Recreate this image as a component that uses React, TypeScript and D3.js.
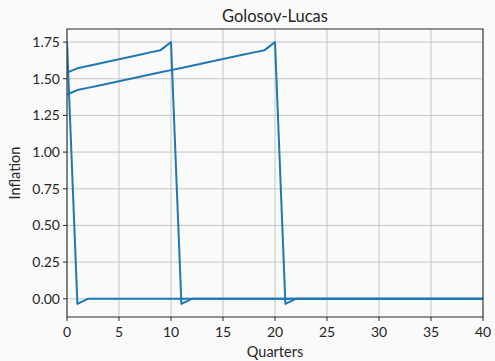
import React from "react";
import * as d3 from "d3";

const WIDTH = 495;
const HEIGHT = 361;
const MARGIN = { top: 29, right: 12, bottom: 44, left: 67 };

const TITLE = "Golosov-Lucas";
const X_LABEL = "Quarters";
const Y_LABEL = "Inflation";

const X_TICKS = [0, 5, 10, 15, 20, 25, 30, 35, 40];
const Y_TICKS = [0, 0.25, 0.5, 0.75, 1.0, 1.25, 1.5, 1.75];

// Inflation response for each announcement horizon (quarters 0..40)
const responseNow = [
  1.75, -0.035, 0, 0, 0, 0, 0, 0, 0, 0, 0, 0, 0, 0, 0, 0, 0, 0, 0, 0, 0, 0,
  0, 0, 0, 0, 0, 0, 0, 0, 0, 0, 0, 0, 0, 0, 0, 0, 0, 0, 0,
];

const responseTen = [
  1.543, 1.571, 1.587, 1.602, 1.618, 1.633, 1.649, 1.664, 1.68, 1.695, 1.75,
  -0.035, 0, 0, 0, 0, 0, 0, 0, 0, 0, 0, 0, 0, 0, 0, 0, 0, 0, 0, 0, 0, 0, 0,
  0, 0, 0, 0, 0, 0, 0,
];

const responseTwenty = [
  1.393, 1.423, 1.438, 1.453, 1.468, 1.483, 1.499, 1.514, 1.529, 1.544, 1.559,
  1.574, 1.589, 1.604, 1.619, 1.635, 1.65, 1.665, 1.68, 1.695, 1.75, -0.035, 0,
  0, 0, 0, 0, 0, 0, 0, 0, 0, 0, 0, 0, 0, 0, 0, 0, 0, 0,
];

const SERIES = [responseNow, responseTen, responseTwenty];

const FONT = "Lato, 'DejaVu Sans', sans-serif";
const LINE_COLOR = "#1f77b4";

export default function App() {
  const innerW = WIDTH - MARGIN.left - MARGIN.right;
  const innerH = HEIGHT - MARGIN.top - MARGIN.bottom;

  const x = d3.scaleLinear().domain([0, 40]).range([0, innerW]);
  const allValues = SERIES.flat();
  const yMin = d3.min(allValues) as number;
  const yMax = d3.max(allValues) as number;
  const pad = (yMax - yMin) * 0.05;
  const y = d3
    .scaleLinear()
    .domain([yMin - pad, yMax + pad])
    .range([innerH, 0]);

  const line = d3
    .line<number>()
    .x((_, i) => x(i))
    .y((d) => y(d));

  return (
    <svg
      width={WIDTH}
      height={HEIGHT}
      style={{ position: "absolute", left: 0, top: 0, background: "#fafafa" }}
      fontFamily={FONT}
    >
      <rect width={WIDTH} height={HEIGHT} fill="#fafafa" />
      <text
        x={MARGIN.left + innerW / 2}
        y={22}
        textAnchor="middle"
        fontSize={16.5}
        fill="#262626"
      >
        {TITLE}
      </text>
      <g transform={`translate(${MARGIN.left},${MARGIN.top})`}>
        <clipPath id="plot-clip">
          <rect x={0} y={0} width={innerW} height={innerH} />
        </clipPath>
        {X_TICKS.map((t) => (
          <line
            key={`gx${t}`}
            x1={x(t)}
            x2={x(t)}
            y1={0}
            y2={innerH}
            stroke="#c4c4c4"
            strokeWidth={1}
          />
        ))}
        {Y_TICKS.map((t) => (
          <line
            key={`gy${t}`}
            x1={0}
            x2={innerW}
            y1={y(t)}
            y2={y(t)}
            stroke="#c4c4c4"
            strokeWidth={1}
          />
        ))}
        <g clipPath="url(#plot-clip)">
          {SERIES.map((s, i) => (
            <path
              key={i}
              d={line(s) as string}
              fill="none"
              stroke={LINE_COLOR}
              strokeWidth={2}
              strokeLinejoin="round"
            />
          ))}
        </g>
        <rect
          x={0}
          y={0}
          width={innerW}
          height={innerH}
          fill="none"
          stroke="#262626"
          strokeWidth={1}
        />
        {X_TICKS.map((t) => (
          <g key={`tx${t}`} transform={`translate(${x(t)},${innerH})`}>
            <line y1={0} y2={4} stroke="#262626" />
            <text
              y={20}
              textAnchor="middle"
              fontSize={14}
              fill="#262626"
            >
              {t}
            </text>
          </g>
        ))}
        {Y_TICKS.map((t) => (
          <g key={`ty${t}`} transform={`translate(0,${y(t)})`}>
            <line x1={-4} x2={0} stroke="#262626" />
            <text
              x={-7}
              dy="0.35em"
              textAnchor="end"
              fontSize={14}
              fill="#262626"
            >
              {d3.format(".2f")(t)}
            </text>
          </g>
        ))}
        <text
          x={innerW / 2}
          y={innerH + 40}
          textAnchor="middle"
          fontSize={14.5}
          fill="#262626"
        >
          {X_LABEL}
        </text>
        <text
          transform={`translate(${-47},${innerH / 2}) rotate(-90)`}
          textAnchor="middle"
          fontSize={14.5}
          fill="#262626"
        >
          {Y_LABEL}
        </text>
      </g>
    </svg>
  );
}
